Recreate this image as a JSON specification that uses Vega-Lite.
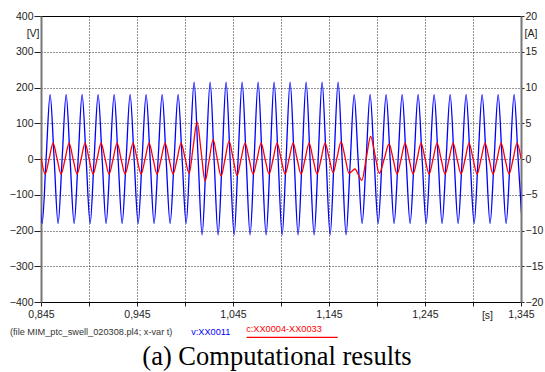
{
 "$schema": "https://vega.github.io/schema/vega-lite/v6.json",
 "width": 480,
 "height": 286,
 "autosize": {"type": "none"},
 "padding": {"left": 41, "top": 16, "right": 24, "bottom": 70},
 "background": "white",
 "config": {
  "font": "Liberation Sans",
  "view": {"stroke": "black", "strokeWidth": 1},
  "axis": {"labelFont": "Liberation Sans", "labelFontSize": 10.5, "labelColor": "#222", "labelFlush": false, "labelOverlap": false, "labelBound": false, "titleFont": "Liberation Sans", "titleFontSize": 10.5, "titleFontWeight": "normal", "titleColor": "#222", "tickColor": "#222"}
 },
 "title": {"text": "(a) Computational results", "orient": "bottom", "font": "Liberation Serif", "fontSize": 26.5, "fontWeight": "normal", "color": "black", "baseline": "alphabetic", "offset": 25, "dx": -4},
 "datasets": {
  "v": [
   {"t":0.8420,"v":0},{"t":0.8462,"v":-180},{"t":0.8503,"v":0},{"t":0.8545,"v":180},{"t":0.8587,"v":0},{"t":0.8628,"v":-180},{"t":0.8670,"v":0},{"t":0.8712,"v":180},{"t":0.8753,"v":0},{"t":0.8795,"v":-180},{"t":0.8837,"v":0},{"t":0.8878,"v":180},{"t":0.8920,"v":0},{"t":0.8962,"v":-180},{"t":0.9003,"v":0},{"t":0.9045,"v":180},{"t":0.9087,"v":0},{"t":0.9128,"v":-180},{"t":0.9170,"v":0},{"t":0.9212,"v":180},{"t":0.9253,"v":0},{"t":0.9295,"v":-180},{"t":0.9337,"v":0},{"t":0.9378,"v":180},{"t":0.9420,"v":0},{"t":0.9462,"v":-180},{"t":0.9503,"v":0},{"t":0.9545,"v":180},{"t":0.9587,"v":0},{"t":0.9628,"v":-180},{"t":0.9670,"v":0},{"t":0.9712,"v":180},{"t":0.9753,"v":0},{"t":0.9795,"v":-180},{"t":0.9837,"v":0},{"t":0.9878,"v":180},{"t":0.9920,"v":0},{"t":0.9962,"v":-180},{"t":1.0003,"v":17},{"t":1.0045,"v":215},{"t":1.0087,"v":0},{"t":1.0128,"v":-212},{"t":1.0170,"v":0},{"t":1.0212,"v":215},{"t":1.0253,"v":0},{"t":1.0295,"v":-212},{"t":1.0337,"v":0},{"t":1.0378,"v":215},{"t":1.0420,"v":0},{"t":1.0462,"v":-212},{"t":1.0503,"v":0},{"t":1.0545,"v":215},{"t":1.0587,"v":0},{"t":1.0628,"v":-212},{"t":1.0670,"v":0},{"t":1.0712,"v":215},{"t":1.0753,"v":0},{"t":1.0795,"v":-212},{"t":1.0837,"v":0},{"t":1.0878,"v":215},{"t":1.0920,"v":0},{"t":1.0962,"v":-212},{"t":1.1003,"v":0},{"t":1.1045,"v":215},{"t":1.1087,"v":0},{"t":1.1128,"v":-212},{"t":1.1170,"v":0},{"t":1.1212,"v":215},{"t":1.1253,"v":0},{"t":1.1295,"v":-212},{"t":1.1337,"v":0},{"t":1.1378,"v":215},{"t":1.1420,"v":0},{"t":1.1462,"v":-212},{"t":1.1503,"v":0},{"t":1.1545,"v":215},{"t":1.1587,"v":0},{"t":1.1628,"v":-212},{"t":1.1670,"v":-16},{"t":1.1712,"v":180},{"t":1.1753,"v":0},{"t":1.1795,"v":-180},{"t":1.1837,"v":0},{"t":1.1878,"v":180},{"t":1.1920,"v":0},{"t":1.1962,"v":-180},{"t":1.2003,"v":0},{"t":1.2045,"v":180},{"t":1.2087,"v":0},{"t":1.2128,"v":-180},{"t":1.2170,"v":0},{"t":1.2212,"v":180},{"t":1.2253,"v":0},{"t":1.2295,"v":-180},{"t":1.2337,"v":0},{"t":1.2378,"v":180},{"t":1.2420,"v":0},{"t":1.2462,"v":-180},{"t":1.2503,"v":0},{"t":1.2545,"v":180},{"t":1.2587,"v":0},{"t":1.2628,"v":-180},{"t":1.2670,"v":0},{"t":1.2712,"v":180},{"t":1.2753,"v":0},{"t":1.2795,"v":-180},{"t":1.2837,"v":0},{"t":1.2878,"v":180},{"t":1.2920,"v":0},{"t":1.2962,"v":-180},{"t":1.3003,"v":0},{"t":1.3045,"v":180},{"t":1.3087,"v":0},{"t":1.3128,"v":-180},{"t":1.3170,"v":0},{"t":1.3212,"v":180},{"t":1.3253,"v":0},{"t":1.3295,"v":-180},{"t":1.3337,"v":0},{"t":1.3378,"v":180},{"t":1.3420,"v":0},{"t":1.3462,"v":-180}
  ],
  "c": [
   {"t":0.8409,"a":2.2},{"t":0.8451,"a":0},{"t":0.8493,"a":-2.1},{"t":0.8534,"a":0},{"t":0.8576,"a":2.2},{"t":0.8618,"a":0},{"t":0.8659,"a":-2.1},{"t":0.8701,"a":0},{"t":0.8743,"a":2.2},{"t":0.8784,"a":0},{"t":0.8826,"a":-2.1},{"t":0.8868,"a":0},{"t":0.8909,"a":2.2},{"t":0.8951,"a":0},{"t":0.8993,"a":-2.1},{"t":0.9034,"a":0},{"t":0.9076,"a":2.2},{"t":0.9118,"a":0},{"t":0.9159,"a":-2.1},{"t":0.9201,"a":0},{"t":0.9243,"a":2.2},{"t":0.9284,"a":0},{"t":0.9326,"a":-2.1},{"t":0.9368,"a":0},{"t":0.9409,"a":2.2},{"t":0.9451,"a":0},{"t":0.9493,"a":-2.1},{"t":0.9534,"a":0},{"t":0.9576,"a":2.2},{"t":0.9618,"a":0},{"t":0.9659,"a":-2.1},{"t":0.9701,"a":0},{"t":0.9743,"a":2.2},{"t":0.9784,"a":0},{"t":0.9826,"a":-2.1},{"t":0.9868,"a":0},{"t":0.9909,"a":2.2},{"t":0.9951,"a":0.1},{"t":0.9993,"a":-2.0},{"t":1.0034,"a":1.6},{"t":1.0076,"a":5.2},{"t":1.0118,"a":1.05},{"t":1.0159,"a":-3.1},{"t":1.0201,"a":-0.2},{"t":1.0243,"a":2.7},{"t":1.0284,"a":0.15},{"t":1.0326,"a":-2.4},{"t":1.0368,"a":0.05},{"t":1.0409,"a":2.5},{"t":1.0451,"a":0.1},{"t":1.0493,"a":-2.3},{"t":1.0534,"a":0},{"t":1.0576,"a":2.2},{"t":1.0618,"a":0},{"t":1.0659,"a":-2.1},{"t":1.0701,"a":0},{"t":1.0743,"a":2.2},{"t":1.0784,"a":0},{"t":1.0826,"a":-2.1},{"t":1.0868,"a":0},{"t":1.0909,"a":2.2},{"t":1.0951,"a":0},{"t":1.0993,"a":-2.1},{"t":1.1034,"a":0},{"t":1.1076,"a":2.2},{"t":1.1118,"a":0},{"t":1.1159,"a":-2.1},{"t":1.1201,"a":0},{"t":1.1243,"a":2.2},{"t":1.1284,"a":0},{"t":1.1326,"a":-2.1},{"t":1.1368,"a":0},{"t":1.1409,"a":2.2},{"t":1.1451,"a":0.15},{"t":1.1493,"a":-1.9},{"t":1.1534,"a":0.25},{"t":1.1576,"a":2.4},{"t":1.1618,"a":0.2},{"t":1.1659,"a":-2.0},{"t":1.1690,"a":-1.7},{"t":1.1721,"a":-1.4},{"t":1.1756,"a":-2.2},{"t":1.1791,"a":-3.0},{"t":1.1838,"a":0.1},{"t":1.1884,"a":3.15},{"t":1.1929,"a":0.6},{"t":1.1974,"a":-2.0},{"t":1.2025,"a":0},{"t":1.2076,"a":2.1},{"t":1.2118,"a":0},{"t":1.2159,"a":-2.1},{"t":1.2201,"a":0},{"t":1.2243,"a":2.2},{"t":1.2284,"a":0},{"t":1.2326,"a":-2.1},{"t":1.2368,"a":0},{"t":1.2409,"a":2.2},{"t":1.2451,"a":0},{"t":1.2493,"a":-2.1},{"t":1.2534,"a":0},{"t":1.2576,"a":2.2},{"t":1.2618,"a":0},{"t":1.2659,"a":-2.1},{"t":1.2701,"a":0},{"t":1.2743,"a":2.2},{"t":1.2784,"a":0},{"t":1.2826,"a":-2.1},{"t":1.2868,"a":0},{"t":1.2909,"a":2.2},{"t":1.2951,"a":0},{"t":1.2993,"a":-2.1},{"t":1.3034,"a":0},{"t":1.3076,"a":2.2},{"t":1.3118,"a":0},{"t":1.3159,"a":-2.1},{"t":1.3201,"a":0},{"t":1.3243,"a":2.2},{"t":1.3284,"a":0},{"t":1.3326,"a":-2.1},{"t":1.3368,"a":0},{"t":1.3409,"a":2.2},{"t":1.3451,"a":0}
  ]
 },
 "layer": [
  {
   "data": {"name": "v"},
   "mark": {"type": "line", "interpolate": "monotone", "clip": true, "strokeWidth": 1.3},
   "encoding": {
    "x": {"field": "t", "type": "quantitative", "scale": {"domain": [0.845, 1.345], "nice": false, "zero": false},
     "axis": {"values": [0.845,0.895,0.945,0.995,1.045,1.095,1.145,1.195,1.245,1.295,1.345], "grid": true, "gridDash": [1,2], "gridColor": "#000", "gridOpacity": 0.85, "domainColor": "#000", "domainWidth": 1, "tickSize": 4, "labelPadding": 3,
      "labelExpr": "indexof(['0.845','0.945','1.045','1.145','1.245','1.345'], format(datum.value, '.3f')) >= 0 ? replace(format(datum.value, '.3f'), '.', ',') : ''",
      "title": "[s]", "titleX": 446, "titleY": 8, "titleBaseline": "top", "titleAlign": "center", "titleAnchor": null}},
    "y": {"field": "v", "type": "quantitative", "scale": {"domain": [-400, 400], "nice": false},
     "axis": {"orient": "left", "values": [-400,-300,-200,-100,0,100,200,300,400], "grid": true, "gridDash": [1,2], "gridColor": "#000", "gridOpacity": 0.85, "domainColor": "#777", "domainWidth": 2, "tickSize": 7, "labelPadding": 1,
      "title": "[V]", "titleAngle": 0, "titleX": -2, "titleY": 17, "titleAlign": "right", "titleBaseline": "middle", "titleAnchor": null}},
    "color": {"datum": "v:XX0011", "type": "nominal", "scale": {"domain": ["v:XX0011", "c:XX0004-XX0033"], "range": ["#0000ff", "#ff0000"]},
     "legend": {"orient": "none", "legendX": -31, "legendY": 308, "direction": "horizontal", "title": "(file MIM_ptc_swell_020308.pl4; x-var t)", "titleOrient": "left", "titleFontSize": 9.2, "titleFontWeight": "normal", "titleColor": "#333", "titleFont": "Liberation Sans", "titlePadding": 7, "labelFontSize": 9.2, "labelFont": "Liberation Sans", "labelColor": {"expr": "datum.value == 'v:XX0011' ? '#0000ff' : '#ff0000'"}, "symbolType": "M7,8.5L98,8.5", "symbolSize": {"expr": "datum.value == 'v:XX0011' ? 0.0001 : 4"}, "symbolStrokeWidth": 1.2, "symbolOpacity": {"expr": "datum.value == 'v:XX0011' ? 0 : 1"}, "labelOffset": 2, "columnPadding": 4}}
   }
  },
  {
   "data": {"name": "c"},
   "mark": {"type": "line", "interpolate": "monotone", "clip": true, "strokeWidth": 1.3},
   "encoding": {
    "x": {"field": "t", "type": "quantitative"},
    "y": {"field": "a", "type": "quantitative", "scale": {"domain": [-20, 20], "nice": false},
     "axis": {"orient": "right", "values": [-20,-15,-10,-5,0,5,10,15,20], "grid": false, "domainColor": "#777", "domainWidth": 2, "tickSize": 3, "labelPadding": 1,
      "title": "[A]", "titleAngle": 0, "titleX": 3, "titleY": 17, "titleAlign": "left", "titleBaseline": "middle", "titleAnchor": null}},
    "color": {"datum": "c:XX0004-XX0033", "type": "nominal"}
   }
  }
 ],
 "resolve": {"scale": {"y": "independent"}}
}
